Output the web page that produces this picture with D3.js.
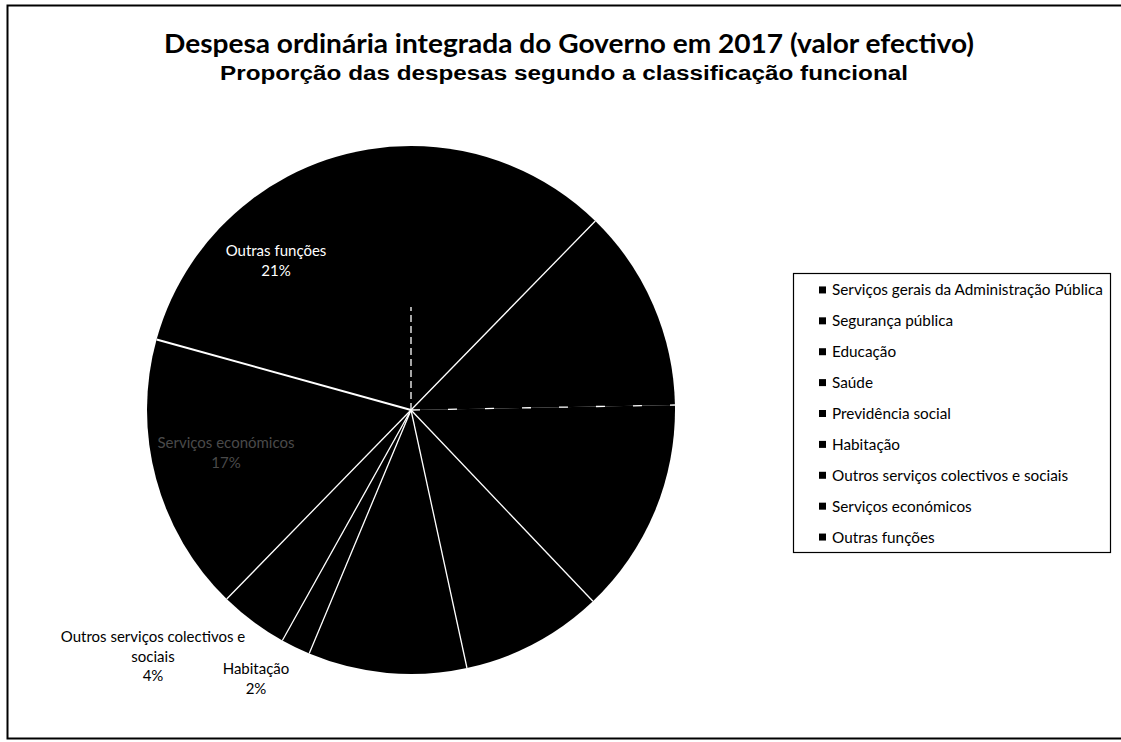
<!DOCTYPE html>
<html>
<head>
<meta charset="utf-8">
<script src="https://cdn.jsdelivr.net/npm/d3@7/dist/d3.min.js"></script>
<style>
  html, body { margin: 0; padding: 0; background: #fff; }
  svg { display: block; }
</style>
</head>
<body>
<svg id="chart" width="1121" height="742"></svg>
<script>
// Functional classification of government ordinary expenditure, 2017 (share of total, %)
const categories = [
  "Serviços gerais da Administração Pública",
  "Segurança pública",
  "Educação",
  "Saúde",
  "Previdência social",
  "Habitação",
  "Outros serviços colectivos e sociais",
  "Serviços económicos",
  "Outras funções"
];
const shares = [12.3, 12.4, 13.2, 8.7, 9.7, 1.8, 4.2, 17.0, 20.7];

const titleText = "Despesa ordinária integrada do Governo em 2017 (valor efectivo)";
const subtitleText = "Proporção das despesas segundo a classificação funcional";

const svg = d3.select("#chart");

// outer frame
svg.append("rect")
  .attr("x", 7.5).attr("y", 5.5)
  .attr("width", 1130).attr("height", 733)
  .attr("fill", "none").attr("stroke", "#000").attr("stroke-width", 2);

// titles (stretched to the chart's title width)
svg.append("text")
  .attr("x", 569).attr("y", 53)
  .attr("text-anchor", "middle")
  .attr("textLength", 810).attr("lengthAdjust", "spacingAndGlyphs")
  .style("font-family", "Lato, 'Open Sans', sans-serif")
  .style("font-weight", "bold").style("font-size", "26px")
  .text(titleText);
svg.append("text")
  .attr("x", 564).attr("y", 80)
  .attr("text-anchor", "middle")
  .attr("textLength", 688).attr("lengthAdjust", "spacingAndGlyphs")
  .style("font-family", "'Liberation Sans', Arial, sans-serif")
  .style("font-weight", "bold").style("font-size", "19.5px")
  .text(subtitleText);

// pie
const cx = 411, cy = 410, R = 264;
const data = categories.map((c, i) => ({ name: c, value: shares[i] }));
const pie = d3.pie().sort(null).value(d => d.value);
const arcs = pie(data);
const arc = d3.arc().innerRadius(0).outerRadius(R);

const g = svg.append("g").attr("transform", `translate(${cx},${cy})`);
g.selectAll("path.slice")
  .data(arcs)
  .join("path")
  .attr("class", "slice")
  .attr("d", arc)
  .attr("fill", "#000");

// white slice separators (first and third boundaries print faintly)
const sepLen = d => d.index === 0 ? 103 : R;
g.selectAll("line.sep")
  .data(arcs)
  .join("line")
  .attr("class", "sep")
  .attr("x1", 0).attr("y1", 0)
  .attr("x2", d => sepLen(d) * Math.sin(d.startAngle))
  .attr("y2", d => -sepLen(d) * Math.cos(d.startAngle))
  .attr("stroke", "#fff")
  .attr("stroke-width", d => d.index === 8 ? 2 : 1.3)
  .attr("stroke-dasharray", d => d.index === 0 ? "7,4" : d.index === 2 ? "9,28" : null);

// data labels
const pct = v => d3.format(".0f")(v) + "%";
const labelFont = "Lato, 'Open Sans', sans-serif";

function addLabel(lines, x, y, fill, size) {
  const t = svg.append("text")
    .attr("text-anchor", "middle")
    .style("font-family", labelFont)
    .style("font-size", size + "px")
    .attr("fill", fill);
  lines.forEach((s, k) => {
    t.append("tspan").attr("x", x).attr("y", y + k * 19.5).text(s);
  });
}

// Outras funções (inside, white)
addLabel([categories[8], pct(shares[8])], 276, 256, "#fff", 15);
// Serviços económicos (inside, grey)
addLabel([categories[7], pct(shares[7])], 226, 448, "#4a4a4a", 15);
// Outros serviços colectivos e sociais (outside)
addLabel(["Outros serviços colectivos e", "sociais", pct(shares[6])], 153, 642, "#000", 15);
// Habitação (outside)
addLabel([categories[5], pct(shares[5])], 256, 674, "#000", 15);

// legend
const lg = svg.append("g");
lg.append("rect")
  .attr("x", 793.5).attr("y", 273.5)
  .attr("width", 317).attr("height", 279)
  .attr("fill", "#fff").attr("stroke", "#000").attr("stroke-width", 1.2);
const ly = d3.scaleBand().domain(categories).range([275, 553]);
const items = lg.selectAll("g.item").data(categories).join("g")
  .attr("class", "item")
  .attr("transform", d => `translate(0,${ly(d) + ly.bandwidth() / 2})`);
items.append("rect")
  .attr("x", 819).attr("y", -4).attr("width", 7).attr("height", 7)
  .attr("fill", "#000");
items.append("text")
  .attr("x", 832).attr("y", 5)
  .style("font-family", labelFont)
  .style("font-size", "15.3px")
  .text(d => d);
</script>
</body>
</html>
